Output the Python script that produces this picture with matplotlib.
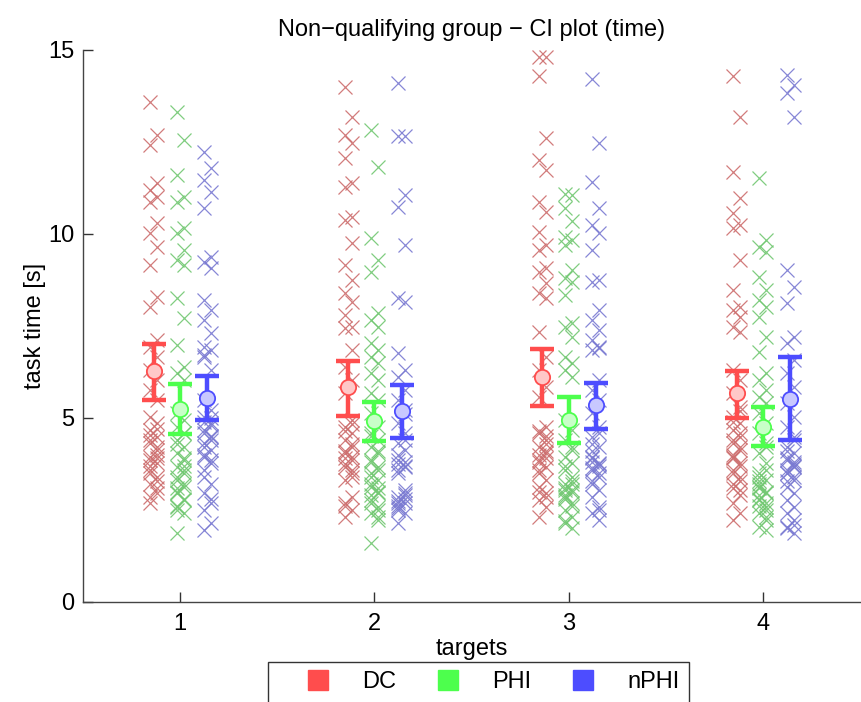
import matplotlib
matplotlib.use("Agg")
import matplotlib.pyplot as plt
from matplotlib.lines import Line2D
import numpy as np

plt.rcParams['font.family'] = ['Liberation Sans', 'DejaVu Sans']

targets = [1, 2, 3, 4]
groups = ["DC", "PHI", "nPHI"]

# individual task times (s) per target, per group
dc_times = [
    [13.6, 12.69, 12.42, 11.38, 11.2, 11.0, 10.88, 10.29, 10.02, 9.66, 9.16, 8.3, 8.02, 7.12, 6.94, 6.67,
     6.3, 6.03, 5.76, 5.49, 5.04, 4.86, 4.67, 4.49, 4.31, 4.13, 3.95, 3.77, 3.59, 3.41, 3.22, 2.95, 2.68,
     4.7, 4.4, 4.0, 3.85, 3.9, 3.7, 4.2, 3.5, 3.3, 4.55, 3.1, 2.85],
    [14.0, 13.19, 12.69, 12.46, 12.06, 11.38, 11.29, 10.47, 10.38, 9.75, 9.16, 8.75, 8.39, 8.16, 7.8, 7.48,
     7.44, 6.85, 6.39, 6.03, 5.67, 4.95, 4.76, 4.58, 4.4, 4.22, 4.04, 3.86, 3.68, 3.5, 3.32, 2.86, 2.68,
     2.5, 2.32, 4.3, 4.1, 3.95, 3.75, 3.6, 4.65, 3.4, 2.6, 4.85, 3.9],
    [14.8, 14.8, 14.3, 12.6, 12.01, 11.74, 10.88, 10.61, 10.06, 9.7, 9.57, 9.07, 8.98, 8.66, 8.39, 8.25,
     7.35, 6.67, 6.3, 5.85, 5.58, 4.76, 4.58, 4.4, 4.22, 4.04, 3.86, 3.68, 3.5, 3.32, 3.13, 2.95, 2.77,
     2.59, 2.32, 4.3, 4.0, 3.9, 3.8, 4.5, 3.6, 4.1, 3.0, 2.85, 4.65],
    [14.28, 13.19, 11.69, 10.97, 10.56, 10.24, 10.15, 9.29, 8.48, 8.02, 7.93, 7.75, 7.48, 7.35, 6.3, 6.03,
     5.67, 5.31, 5.04, 4.86, 4.67, 4.49, 4.31, 4.13, 3.95, 3.77, 3.59, 3.41, 3.22, 3.04, 2.68, 2.41, 2.23,
     4.6, 4.4, 4.2, 3.9, 3.7, 3.5, 5.2, 4.9, 3.3, 3.1, 2.9, 4.0],
]
phi_times = [
    [13.32, 12.55, 11.6, 11.01, 10.88, 10.15, 10.02, 9.57, 9.29, 9.16, 8.25, 7.71, 6.98, 6.39, 6.21, 6.03,
     5.13, 4.95, 4.76, 4.58, 4.4, 4.22, 4.04, 3.86, 3.68, 3.5, 3.32, 3.13, 2.95, 2.77, 2.59, 2.41, 1.87,
     3.6, 3.4, 3.2, 3.0, 2.8, 2.6, 3.9, 4.3, 3.7, 2.5, 4.6, 3.1],
    [12.83, 11.83, 9.88, 9.29, 8.98, 7.84, 7.66, 7.48, 7.03, 6.85, 6.67, 6.49, 6.21, 6.03, 5.67, 5.49,
     5.13, 4.76, 4.58, 4.4, 4.22, 4.04, 3.86, 3.68, 3.5, 3.32, 3.13, 2.95, 2.77, 2.59, 2.41, 2.23, 1.59,
     3.0, 2.9, 3.1, 2.7, 3.6, 3.4, 2.5, 3.8, 4.1, 3.2, 2.3, 4.5],
    [11.1, 11.06, 10.7, 10.34, 9.93, 9.84, 9.7, 9.02, 8.8, 8.7, 8.34, 7.57, 7.48, 7.21, 6.67, 6.49,
     6.3, 6.12, 4.95, 4.67, 4.4, 4.13, 3.95, 3.77, 3.59, 3.41, 3.22, 3.04, 2.86, 2.68, 2.5, 2.32, 2.14,
     2.0, 3.1, 3.0, 2.9, 3.2, 2.8, 3.3, 2.2, 2.6, 3.7, 4.2, 3.05],
    [11.51, 9.84, 9.66, 9.52, 8.84, 8.48, 8.21, 8.02, 7.75, 7.21, 6.8, 6.21, 6.03, 5.76, 5.58, 5.4,
     5.13, 4.86, 4.58, 4.31, 4.04, 3.77, 3.5, 3.32, 3.13, 2.95, 2.77, 2.59, 2.41, 2.23, 2.05, 1.95,
     3.2, 3.0, 2.9, 2.7, 3.4, 2.5, 2.8, 3.6, 3.1, 2.3, 3.3, 4.2, 2.6],
]
nphi_times = [
    [12.24, 11.78, 11.47, 11.15, 10.7, 9.38, 9.25, 9.07, 8.21, 7.93, 7.66, 7.3, 6.94, 6.85, 6.67, 6.3,
     5.49, 5.22, 5.04, 4.86, 4.67, 4.49, 4.31, 4.13, 3.95, 3.77, 3.59, 3.22, 2.95, 2.68, 2.5, 2.14, 1.96,
     4.8, 4.6, 4.4, 4.2, 5.0, 4.0, 3.85, 6.7, 4.5, 3.4, 2.8, 4.9],
    [14.09, 12.65, 12.65, 11.06, 10.74, 9.7, 8.25, 8.16, 6.76, 6.3, 6.12, 5.76, 5.49, 5.22, 4.86, 4.58,
     4.31, 4.13, 3.86, 3.68, 3.5, 3.04, 2.86, 2.68, 2.5, 2.41, 2.14, 3.7, 3.75, 2.8, 2.7, 2.9, 2.6,
     3.8, 2.75, 4.4, 3.6, 2.95, 2.55, 5.1, 4.0],
    [14.2, 12.46, 11.42, 10.7, 10.24, 10.02, 9.57, 8.75, 8.7, 7.93, 7.66, 7.39, 7.12, 6.94, 6.85, 6.03,
     5.76, 5.49, 5.13, 4.76, 4.49, 4.22, 3.95, 3.77, 3.59, 3.41, 3.22, 3.04, 2.86, 2.59, 2.41, 2.23,
     3.8, 3.7, 3.9, 3.75, 3.65, 4.6, 4.3, 3.5, 4.1, 6.9, 3.3, 2.5],
    [14.32, 14.05, 13.82, 13.19, 9.02, 8.57, 8.12, 7.21, 7.03, 6.58, 6.21, 5.85, 5.4, 5.04, 4.76, 4.49,
     4.22, 4.04, 3.86, 3.68, 3.5, 3.32, 3.13, 2.95, 2.77, 2.59, 2.41, 2.23, 2.05, 1.87,
     3.9, 3.7, 3.6, 3.8, 3.5, 3.4, 3.3, 2.1, 2.0, 4.4, 4.1, 3.75],
]

# means and 95% CI bounds per group (targets 1..4)
dc_mean = [6.28, 5.84, 6.11, 5.68]
dc_low = [5.49, 5.05, 5.33, 5.00]
dc_high = [7.00, 6.55, 6.88, 6.28]
phi_mean = [5.24, 4.92, 4.95, 4.76]
phi_low = [4.57, 4.37, 4.32, 4.24]
phi_high = [5.92, 5.43, 5.57, 5.30]
nphi_mean = [5.54, 5.19, 5.35, 5.52]
nphi_low = [4.95, 4.46, 4.70, 4.40]
nphi_high = [6.14, 5.90, 5.95, 6.66]

all_times = [dc_times, phi_times, nphi_times]
all_mean = [dc_mean, phi_mean, nphi_mean]
all_low = [dc_low, phi_low, nphi_low]
all_high = [dc_high, phi_high, nphi_high]

bar_colors = ['#ff4d4d', '#4dff4d', '#4d4dff']
cross_colors = ['#cd6e6e', '#72c872', '#7a7ad2']
fill_colors = ['#ffc8c8', '#c8ffc8', '#c8c8ff']
offsets = [-0.135, 0.0, 0.14]
jit = [-0.018, 0.018]

FS = 17

fig = plt.figure(figsize=(8.62, 7.02), dpi=100)
ax = fig.add_axes([83 / 862, 1 - 602 / 702, (860 - 83) / 862, (602 - 50) / 702])

for g in range(3):
    for ti, t in enumerate(targets):
        vals = all_times[g][ti]
        xs = [t + offsets[g] + jit[k % 2] for k in range(len(vals))]
        ax.plot(xs, vals, linestyle='none', marker='x', markersize=9.5,
                markeredgewidth=0.9, color=cross_colors[g], alpha=0.9, zorder=2)

for g in range(3):
    xs = np.array(targets) + offsets[g]
    m = np.array(all_mean[g])
    lo = m - np.array(all_low[g])
    hi = np.array(all_high[g]) - m
    ax.errorbar(xs, m, yerr=[lo, hi], fmt='none', ecolor=bar_colors[g],
                elinewidth=3.2, capsize=8.8, capthick=3.2, zorder=3)
    ax.plot(xs, m, linestyle='none', marker='o', markersize=11,
            markerfacecolor=fill_colors[g], markeredgecolor=bar_colors[g],
            markeredgewidth=1.3, zorder=4)

ax.set_xlim(0.5, 4.5)
ax.set_ylim(0, 15)
ax.set_xticks(targets)
ax.set_yticks([0, 5, 10, 15])
ax.tick_params(direction='in', length=7, width=1, labelsize=FS, color='#333333')
ax.tick_params(axis='x', pad=8)
ax.tick_params(axis='y', pad=6)
ax.spines['top'].set_visible(False)
ax.spines['right'].set_visible(False)
for s in ['left', 'bottom']:
    ax.spines[s].set_color('#444444')
    ax.spines[s].set_linewidth(1.0)

ax.set_title("Non\u2212qualifying group \u2212 CI plot (time)", fontsize=FS, pad=10)
ax.set_ylabel("task time [s]", fontsize=FS, labelpad=2)
ax.set_xlabel("targets", fontsize=FS, labelpad=2)

handles = [Line2D([], [], linestyle='none', marker='s', markersize=14,
                  markerfacecolor=c, markeredgecolor=c) for c in bar_colors]
leg = fig.legend(handles, groups, loc='upper left', ncol=3,
                 bbox_to_anchor=(268 / 862, 1 - 662 / 702), fontsize=FS,
                 frameon=True, fancybox=False, handletextpad=0.15, columnspacing=0.48,
                 borderpad=0.4, handlelength=3.44, borderaxespad=0)
leg.get_frame().set_edgecolor('black')
leg.get_frame().set_linewidth(1.0)

fig.savefig("out.png", dpi=100)
